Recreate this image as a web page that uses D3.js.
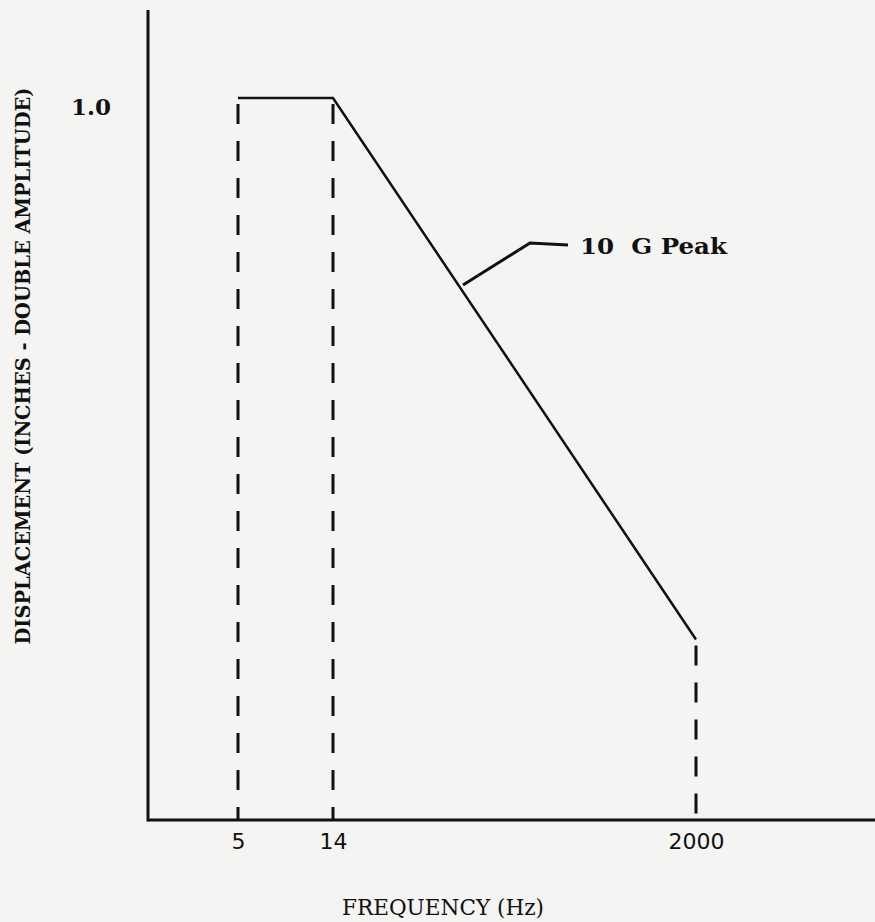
<!DOCTYPE html>
<html>
<head>
<meta charset="utf-8">
<script src="https://cdn.jsdelivr.net/npm/d3@7"></script>
<style>
  html, body { margin: 0; padding: 0; background: #f4f4f2; }
  svg { display: block; }
</style>
</head>
<body>
<div class="viewbox"></div>
<script>
  // vibration spec: displacement vs frequency
  const freq = [5, 14, 2000];
  const disp = [1.0, 1.0, 0.25];
  const freqTicks = [5, 14, 2000];
  const dispTicks = [1.0];
  const curveLabel = "10  G Peak";
  const xTitle = "FREQUENCY (Hz)";
  const yTitle = "DISPLACEMENT (INCHES - DOUBLE AMPLITUDE)";

  const svg_width = 875;
  const svg_height = 922;

  let svg = d3.select(".viewbox")
    .append("svg")
    .attr("width", svg_width)
    .attr("height", svg_height);

  // the original axis isn't a true log axis, so go piecewise through the marked freqs
  let x = d3.scaleLog().domain(freq).range([238, 333, 696]);
  let y = d3.scaleLinear().domain([0, 1]).range([820, 98]);

  const ink = "#111";

  // axis lines drawn by hand, they overrun the scale ranges
  svg.append("line")
    .attr("x1", 148).attr("x2", 148)
    .attr("y1", 10).attr("y2", y(0) + 1.5)
    .attr("stroke", ink).attr("stroke-width", 3);
  svg.append("line")
    .attr("x1", 148).attr("x2", svg_width)
    .attr("y1", y(0)).attr("y2", y(0))
    .attr("stroke", ink).attr("stroke-width", 3);

  // tick labels only
  let xAxis = svg.append("g")
    .attr("transform", `translate(0,${y(0)})`)
    .call(d3.axisBottom(x).tickValues(freqTicks).tickSize(0).tickPadding(13).tickFormat(d3.format("d")));
  xAxis.select(".domain").remove();
  xAxis.selectAll("text")
    .attr("fill", ink)
    .style("font-family", "'DejaVu Sans'")
    .style("font-size", "22px");

  let yAxis = svg.append("g")
    .attr("transform", "translate(111,0)")
    .call(d3.axisLeft(y).tickValues(dispTicks).tickSize(0).tickPadding(0).tickFormat(d3.format(".1f")));
  yAxis.select(".domain").remove();
  yAxis.selectAll("text")
    .attr("fill", ink)
    .attr("dy", "0.7em")
    .style("font-family", "'DejaVu Serif'")
    .style("font-weight", "bold")
    .style("font-size", "23px");

  // dashed drops from each corner to the axis
  svg.selectAll(".drop")
    .data(freq.map((f, i) => ({ f: f, d: disp[i] })))
    .enter()
    .append("line")
    .attr("class", "drop")
    .attr("x1", d => x(d.f)).attr("x2", d => x(d.f))
    .attr("y1", d => y(d.d) + 6).attr("y2", y(0))
    .attr("stroke", ink)
    .attr("stroke-width", 3)
    .attr("stroke-dasharray", "20,17");

  // the curve
  let line = d3.line()
    .x((d, i) => x(freq[i]))
    .y(d => y(d));
  svg.append("path")
    .datum(disp)
    .attr("d", line)
    .attr("fill", "none")
    .attr("stroke", ink)
    .attr("stroke-width", 2.5);

  // leader to the label
  svg.append("path")
    .attr("d", "M463,285 L530,243 L568,245")
    .attr("fill", "none")
    .attr("stroke", ink)
    .attr("stroke-width", 3);

  svg.append("text")
    .attr("x", 580).attr("y", 254)
    .attr("fill", ink)
    .style("font-family", "'DejaVu Serif'")
    .style("font-weight", "bold")
    .style("font-size", "23px")
    .style("white-space", "pre")
    .attr("textLength", 147)
    .attr("lengthAdjust", "spacingAndGlyphs")
    .text(curveLabel);

  svg.append("text")
    .attr("x", 443).attr("y", 915)
    .attr("text-anchor", "middle")
    .attr("fill", ink)
    .style("font-family", "'DejaVu Serif'")
    .style("font-size", "22px")
    .attr("textLength", 202)
    .attr("lengthAdjust", "spacingAndGlyphs")
    .text(xTitle);

  svg.append("text")
    .attr("transform", "translate(30,366) rotate(-90)")
    .attr("text-anchor", "middle")
    .attr("fill", ink)
    .style("font-family", "'DejaVu Serif'")
    .style("font-weight", "bold")
    .style("font-size", "21px")
    .attr("textLength", 557)
    .attr("lengthAdjust", "spacingAndGlyphs")
    .text(yTitle);
</script>
</body>
</html>
